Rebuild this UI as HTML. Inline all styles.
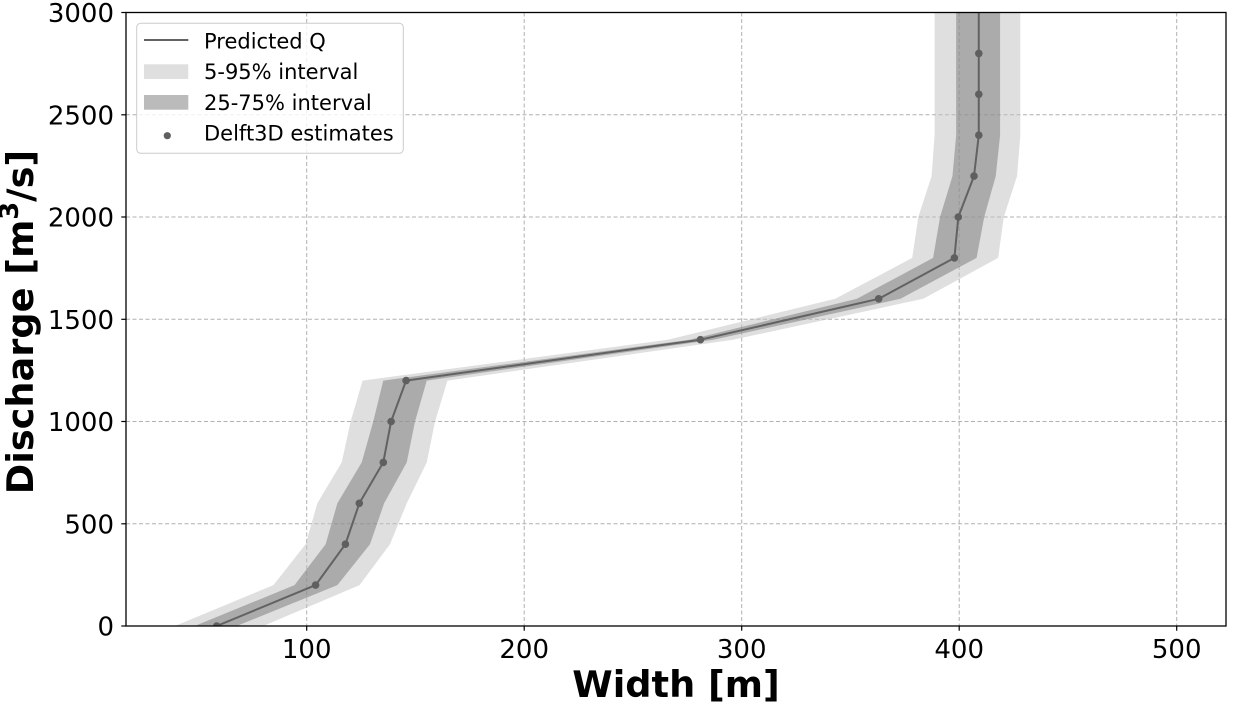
<!DOCTYPE html>
<html>
<head>
<meta charset="utf-8">
<style>
  html, body { margin: 0; padding: 0; background: #ffffff; }
  svg { display: block; }
  text { font-family: "DejaVu Sans", "Liberation Sans", sans-serif; fill: #000; }
</style>
</head>
<body>
<svg width="1233" height="704" viewBox="0 0 1233 704" xmlns="http://www.w3.org/2000/svg">
  <defs>
    <clipPath id="ax">
      <rect x="126" y="12.5" width="1100" height="613.5"/>
    </clipPath>
  </defs>
  <rect x="0" y="0" width="1233" height="704" fill="#ffffff"/>

  <!-- grid -->
  <g stroke="#b0b0b0" stroke-width="1" stroke-dasharray="4 2.5" fill="none">
    <line x1="306.7" y1="12.5" x2="306.7" y2="626"/>
    <line x1="524.2" y1="12.5" x2="524.2" y2="626"/>
    <line x1="741.7" y1="12.5" x2="741.7" y2="626"/>
    <line x1="959.2" y1="12.5" x2="959.2" y2="626"/>
    <line x1="1176.7" y1="12.5" x2="1176.7" y2="626"/>
    <line x1="126" y1="114.8" x2="1226" y2="114.8"/>
    <line x1="126" y1="217" x2="1226" y2="217"/>
    <line x1="126" y1="319.3" x2="1226" y2="319.3"/>
    <line x1="126" y1="421.5" x2="1226" y2="421.5"/>
    <line x1="126" y1="523.8" x2="1226" y2="523.8"/>
  </g>

  <g clip-path="url(#ax)">
    <g transform="translate(89.2,626) scale(2.175,-0.2045)">
      <!-- 5-95% band -->
      <polygon fill="#c0c0c0" fill-opacity="0.5" points="39.4,0 84.7,200 99.5,400 104.9,600 116.1,800 120.2,1000 125.7,1200 266,1400 343,1600 378.4,1800 381.2,2000 387.3,2200 388.7,2400 388.7,3100 428.1,3100 428.1,2400 426.6,2200 420.5,2000 417.9,1800 383.5,1600 296,1400 164.7,1200 159,1000 155.2,800 146,600 138.3,400 124.3,200 80,0"/>
      <!-- 25-75% band -->
      <polygon fill="#777777" fill-opacity="0.5" points="48.5,0 94.4,200 108.7,400 114.1,600 125.3,800 130.6,1000 135.2,1200 276,1400 353,1600 388,1800 391.2,2000 396.9,2200 398.6,2400 398.6,3100 418.8,3100 418.8,2400 416.8,2200 411.5,2000 408,1800 373,1600 287,1400 155.2,1200 149.8,1000 146,800 135.6,600 129.1,400 114.1,200 67.8,0"/>
      <!-- predicted line -->
      <polyline fill="none" stroke="#626262" stroke-width="2" vector-effect="non-scaling-stroke" stroke-linejoin="round" points="58.6,0 104.1,200 117.8,400 124.2,600 135.2,800 138.8,1000 145.7,1200 281,1400 363,1600 397.8,1800 399.6,2000 406.8,2200 409,2400 409,2600 409,2800 409,3100"/>
    </g>
    <!-- Delft3D dots -->
    <g fill="#5f5f5f">
      <circle cx="216.7" cy="626" r="3.8"/>
      <circle cx="315.6" cy="585.1" r="3.8"/>
      <circle cx="345.4" cy="544.2" r="3.8"/>
      <circle cx="359.3" cy="503.3" r="3.8"/>
      <circle cx="383.3" cy="462.4" r="3.8"/>
      <circle cx="391.1" cy="421.5" r="3.8"/>
      <circle cx="406.1" cy="380.6" r="3.8"/>
      <circle cx="700.4" cy="339.7" r="3.8"/>
      <circle cx="878.7" cy="298.8" r="3.8"/>
      <circle cx="954.4" cy="257.9" r="3.8"/>
      <circle cx="958.3" cy="217" r="3.8"/>
      <circle cx="974.0" cy="176.1" r="3.8"/>
      <circle cx="978.8" cy="135.2" r="3.8"/>
      <circle cx="978.8" cy="94.3" r="3.8"/>
      <circle cx="978.8" cy="53.4" r="3.8"/>
    </g>
  </g>

  <!-- spines -->
  <rect x="126" y="12.5" width="1100" height="613.5" fill="none" stroke="#000" stroke-width="1.3"/>

  <!-- ticks -->
  <g stroke="#000" stroke-width="1.2">
    <line x1="121.3" y1="626" x2="126" y2="626"/>
    <line x1="121.3" y1="523.8" x2="126" y2="523.8"/>
    <line x1="121.3" y1="421.5" x2="126" y2="421.5"/>
    <line x1="121.3" y1="319.3" x2="126" y2="319.3"/>
    <line x1="121.3" y1="217" x2="126" y2="217"/>
    <line x1="121.3" y1="114.8" x2="126" y2="114.8"/>
    <line x1="121.3" y1="12.5" x2="126" y2="12.5"/>
    <line x1="306.7" y1="626" x2="306.7" y2="630.7"/>
    <line x1="524.2" y1="626" x2="524.2" y2="630.7"/>
    <line x1="741.7" y1="626" x2="741.7" y2="630.7"/>
    <line x1="959.2" y1="626" x2="959.2" y2="630.7"/>
    <line x1="1176.7" y1="626" x2="1176.7" y2="630.7"/>
  </g>

  <!-- y tick labels -->
  <g font-size="26" text-anchor="end">
    <text x="114" y="635.5">0</text>
    <text x="114" y="533.3">500</text>
    <text x="114" y="431">1000</text>
    <text x="114" y="328.8">1500</text>
    <text x="114" y="226.5">2000</text>
    <text x="114" y="124.3">2500</text>
    <text x="114" y="22">3000</text>
  </g>
  <!-- x tick labels -->
  <g font-size="26" text-anchor="middle">
    <text x="306.7" y="658">100</text>
    <text x="524.2" y="658">200</text>
    <text x="741.7" y="658">300</text>
    <text x="959.2" y="658">400</text>
    <text x="1176.7" y="658">500</text>
  </g>

  <!-- axis labels -->
  <text x="676" y="697" font-size="36.7" font-weight="bold" text-anchor="middle">Width [m]</text>
  <text transform="translate(33,322) rotate(-90)" font-size="36.7" font-weight="bold" text-anchor="middle">Discharge [m<tspan baseline-shift="super" font-size="70%">3</tspan>/s]</text>

  <!-- legend -->
  <rect x="136.7" y="23.3" width="266.6" height="130" rx="4" ry="4" fill="#ffffff" fill-opacity="0.8" stroke="#cccccc" stroke-width="1"/>
  <line x1="144" y1="40" x2="188.3" y2="40" stroke="#626262" stroke-width="2"/>
  <rect x="144" y="64.3" width="44.3" height="14.7" fill="#c0c0c0" fill-opacity="0.5"/>
  <rect x="144" y="95" width="44.3" height="14.7" fill="#777777" fill-opacity="0.5"/>
  <circle cx="167.3" cy="135.7" r="3.6" fill="#5f5f5f"/>
  <g font-size="21">
    <text x="204" y="48.3">Predicted Q</text>
    <text x="204" y="79">5-95% interval</text>
    <text x="204" y="110">25-75% interval</text>
    <text x="204" y="140.7">Delft3D estimates</text>
  </g>
</svg>
</body>
</html>
